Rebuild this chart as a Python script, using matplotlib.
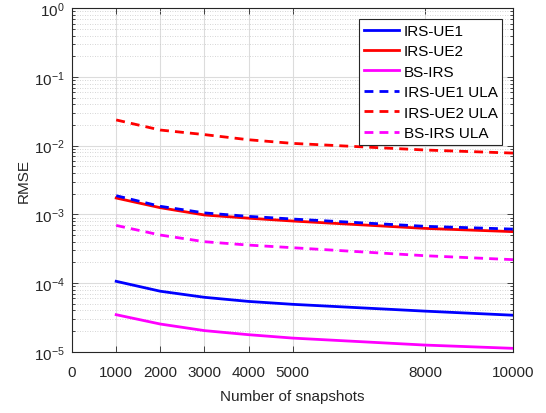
import matplotlib.pyplot as plt
from matplotlib.ticker import LogLocator, NullFormatter

plt.rcParams['font.family'] = ['Liberation Sans', 'DejaVu Sans']

snapshots = [1000, 2000, 3000, 4000, 5000, 8000, 10000]

irs_ue1 = [1.06e-4, 7.6e-5, 6.2e-5, 5.4e-5, 4.9e-5, 3.9e-5, 3.4e-5]
irs_ue2 = [1.73e-3, 1.25e-3, 9.8e-4, 8.8e-4, 8.0e-4, 6.25e-4, 5.6e-4]
bs_irs = [3.46e-5, 2.53e-5, 2.03e-5, 1.77e-5, 1.58e-5, 1.25e-5, 1.12e-5]
irs_ue1_ula = [1.87e-3, 1.31e-3, 1.05e-3, 9.35e-4, 8.55e-4, 6.7e-4, 6.1e-4]
irs_ue2_ula = [2.37e-2, 1.69e-2, 1.45e-2, 1.22e-2, 1.08e-2, 8.65e-3, 7.8e-3]
bs_irs_ula = [6.9e-4, 5.0e-4, 4.0e-4, 3.57e-4, 3.27e-4, 2.5e-4, 2.19e-4]

xticks = [0, 1000, 2000, 3000, 4000, 5000, 8000, 10000]

fig = plt.figure(figsize=(5.46, 4.14), dpi=100)
ax = fig.add_axes([0.132, 0.148, 0.808, 0.8295])

dash = (3.2, 2.2)
ax.semilogy(snapshots, irs_ue1, color='#0000ff', lw=2, label='IRS-UE1')
ax.semilogy(snapshots, irs_ue2, color='#ff0000', lw=2, label='IRS-UE2')
ax.semilogy(snapshots, bs_irs, color='#ff00ff', lw=2, label='BS-IRS')
ax.semilogy(snapshots, irs_ue1_ula, color='#0000ff', lw=2, ls=(0, dash), label='IRS-UE1 ULA')
ax.semilogy(snapshots, irs_ue2_ula, color='#ff0000', lw=2, ls=(0, dash), label='IRS-UE2 ULA')
ax.semilogy(snapshots, bs_irs_ula, color='#ff00ff', lw=2, ls=(0, dash), label='BS-IRS ULA')

ax.set_xlim(0, 10000)
ax.set_ylim(1e-5, 1)
ax.set_xticks(xticks)
ax.set_xticklabels([str(t) for t in xticks])
ax.yaxis.set_major_locator(LogLocator(base=10, numticks=10))
ax.yaxis.set_minor_locator(LogLocator(base=10, subs=range(2, 10), numticks=20))
ax.yaxis.set_minor_formatter(NullFormatter())

ax.grid(True, which='major', color='#dcdcdc', lw=0.8)
ax.grid(True, which='minor', axis='y', color='#c8c8c8', lw=0.6, ls=(0, (1, 2)))
ax.set_axisbelow(True)

ax.tick_params(which='both', direction='in', top=True, right=True,
               labelsize=11, colors='#262626', width=0.6)
ax.tick_params(which='major', length=4)
ax.tick_params(which='minor', length=2)
ax.tick_params(axis='x', pad=9.5)
ax.tick_params(axis='y', pad=5.5)
for s in ax.spines.values():
    s.set_color('#262626')
    s.set_linewidth(0.8)

ax.set_xlabel('Number of snapshots', fontsize=11, color='#262626', labelpad=7)
ax.set_ylabel('RMSE', fontsize=11, color='#262626', labelpad=2)

leg = ax.legend(loc='upper right', fontsize=11, handlelength=2.3,
                frameon=True, fancybox=False, framealpha=1,
                borderaxespad=0.72, labelspacing=0.42, handletextpad=0.3,
                borderpad=0.3)
leg.get_frame().set_edgecolor('#262626')
leg.get_frame().set_linewidth(0.8)

fig.savefig('out.png', dpi=100)
